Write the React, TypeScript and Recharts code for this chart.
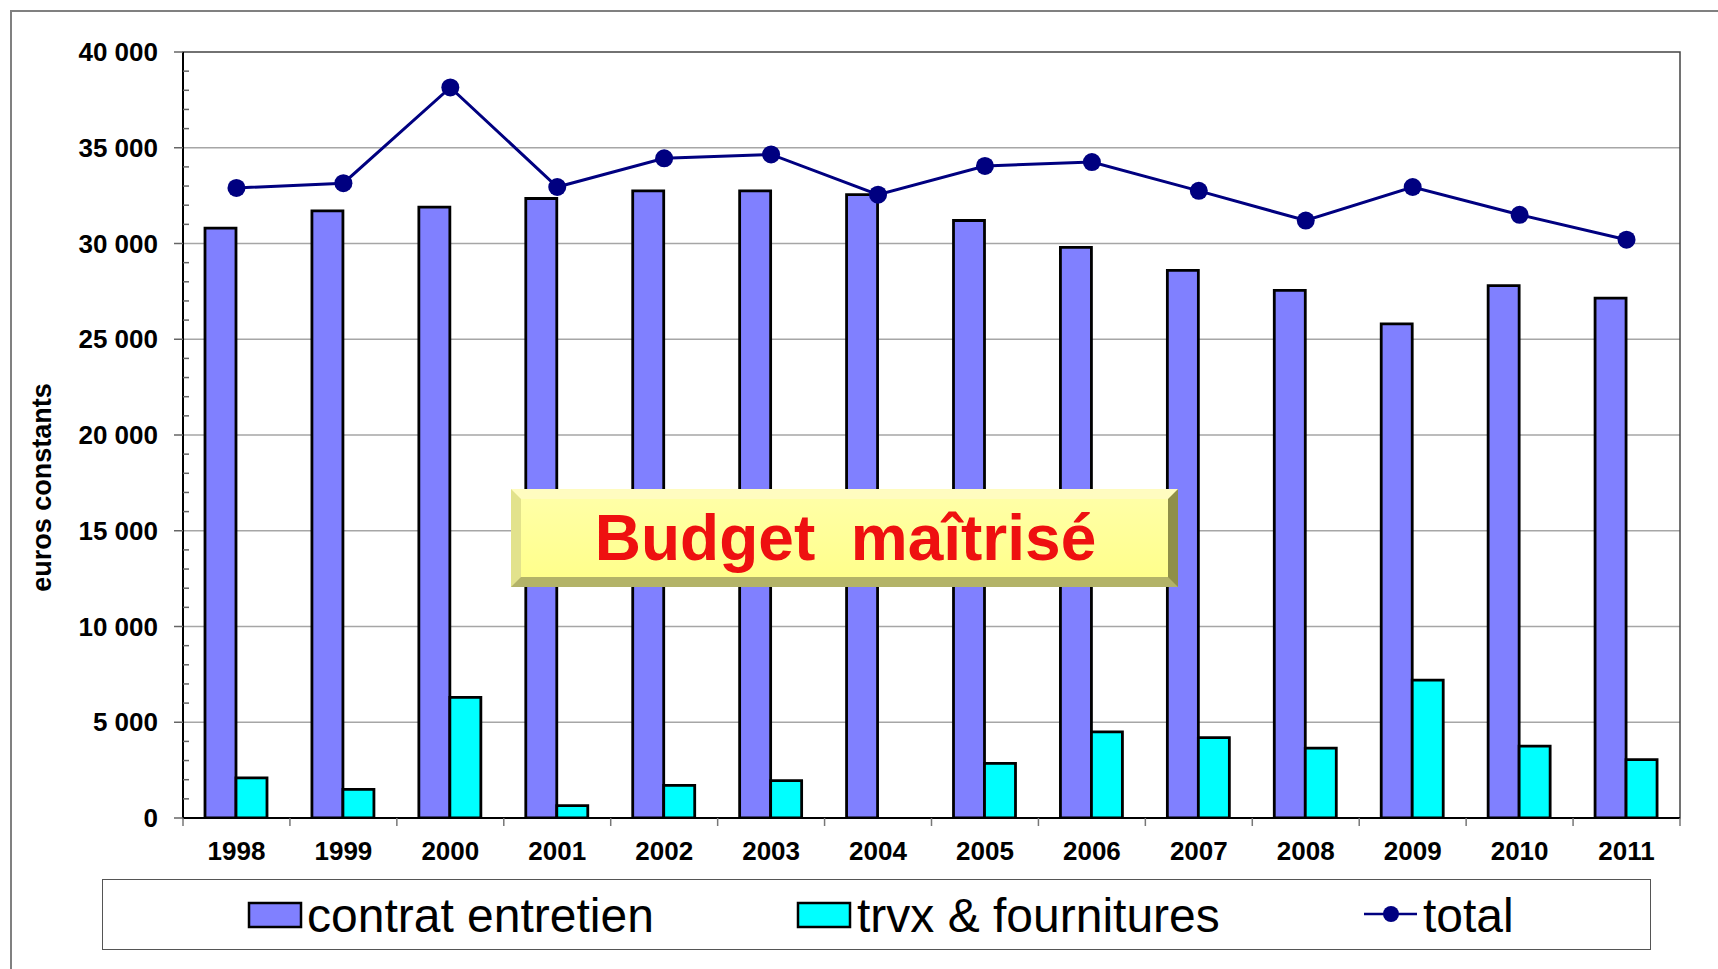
import React from "react";
import {
  ComposedChart,
  Bar,
  Line,
  XAxis,
  YAxis,
  CartesianGrid,
  ReferenceArea,
} from "recharts";

const years = ["1998", "1999", "2000", "2001", "2002", "2003", "2004", "2005", "2006", "2007", "2008", "2009", "2010", "2011"];
const contratEntretien = [30800, 31700, 31900, 32350, 32750, 32750, 32550, 31200, 29800, 28600, 27550, 25800, 27800, 27150];
const trvxFournitures = [2100, 1500, 6300, 650, 1700, 1950, 0, 2850, 4500, 4200, 3650, 7200, 3750, 3050];
const totals = [32900, 33150, 38150, 32950, 34450, 34650, 32550, 34050, 34250, 32750, 31200, 32950, 31500, 30200];
const majorTicks = [0, 5000, 10000, 15000, 20000, 25000, 30000, 35000, 40000];

const data = years.map((y, i) => ({
  year: y,
  contrat: contratEntretien[i],
  trvx: trvxFournitures[i],
  total: totals[i],
}));

// minor ticks every 1000 between the labelled ones
const allTicks: number[] = [];
majorTicks.forEach((t, i) => {
  allTicks.push(t);
  if (i < majorTicks.length - 1) for (let k = 1; k < 5; k++) allTicks.push(t + k * 1000);
});

const W = 1718;
const H = 969;
const LEFT = 183;
const RIGHT = 38;
const TOP = 52;
const BOTTOM = 151;
const BAND = (W - LEFT - RIGHT) / years.length;
const FONT = '"Liberation Sans", Arial, sans-serif';

const fmt = (v: number) => String(v).replace(/\B(?=(\d{3})+(?!\d))/g, " ");

function YTick(props: any) {
  const { x, y, payload } = props;
  const v = payload.value as number;
  const major = v % 5000 === 0;
  return (
    <g>
      {major ? (
        <>
          <line x1={x - 9} x2={x} y1={y} y2={y} stroke="#666" strokeWidth={1.5} />
          <text x={x - 25} y={y + 9} textAnchor="end" fontFamily={FONT} fontWeight="bold" fontSize={26} fill="#000">
            {fmt(v)}
          </text>
        </>
      ) : (
        <line x1={x} x2={x + 6} y1={y} y2={y} stroke="#666" strokeWidth={1.5} />
      )}
    </g>
  );
}

function XTick(props: any) {
  const { x, y, payload, index } = props;
  return (
    <g>
      <line x1={x - BAND / 2} x2={x - BAND / 2} y1={y} y2={y + 8} stroke="#777" strokeWidth={1.5} />
      {index === years.length - 1 && (
        <line x1={x + BAND / 2} x2={x + BAND / 2} y1={y} y2={y + 8} stroke="#777" strokeWidth={1.5} />
      )}
      <text x={x} y={y + 42} textAnchor="middle" fontFamily={FONT} fontWeight="bold" fontSize={26} fill="#000">
        {payload.value}
      </text>
    </g>
  );
}

function LegendBox() {
  return (
    <div
      style={{
        position: "absolute",
        left: 102,
        top: 879,
        width: 1549,
        height: 71,
        border: "1.5px solid #555",
        boxSizing: "border-box",
      }}
    >
      <svg width={1549} height={71} style={{ position: "absolute", left: -1.5, top: -1.5 }}>
        <rect x={147} y={24} width={52} height={24} fill="#8080ff" stroke="#000" strokeWidth={2.5} />
        <text x={205} y={53} fontFamily={FONT} fontSize={48} fill="#000">contrat entretien</text>
        <rect x={696} y={24} width={52} height={24} fill="#00ffff" stroke="#000" strokeWidth={2.5} />
        <text x={755} y={53} fontFamily={FONT} fontSize={48} fill="#000">trvx &amp; fournitures</text>
        <line x1={1262} x2={1315} y1={35} y2={35} stroke="#000080" strokeWidth={2.5} />
        <circle cx={1289} cy={35} r={8} fill="#000080" />
        <text x={1321} y={53} fontFamily={FONT} fontSize={48} fill="#000">total</text>
      </svg>
    </div>
  );
}

function BudgetBadge() {
  return (
    <div
      style={{
        position: "absolute",
        left: 511,
        top: 489,
        width: 667,
        height: 98,
        boxSizing: "border-box",
        background: "linear-gradient(#ffffa6, #ffff8c)",
        borderStyle: "solid",
        borderWidth: 10,
        borderTopColor: "#fffcc0",
        borderLeftColor: "#e2e28c",
        borderRightColor: "#8f8f48",
        borderBottomColor: "#b3b368",
        display: "flex",
        alignItems: "center",
        justifyContent: "center",
      }}
    >
      <span
        style={{
          fontFamily: FONT,
          fontWeight: "bold",
          fontSize: 64,
          color: "#ee1010",
          whiteSpace: "pre",
          lineHeight: 1,
          marginLeft: 2,
        }}
      >
        {"Budget  maîtrisé"}
      </span>
    </div>
  );
}

export default function App() {
  return (
    <div style={{ position: "relative", width: W, height: H, overflow: "hidden", background: "#fff" }}>
      <style>{"body{margin:0}"}</style>
      <div
        style={{
          position: "absolute",
          left: 10,
          top: 10,
          width: W,
          height: H,
          borderTop: "2px solid #808080",
          borderLeft: "2px solid #808080",
        }}
      />
      <div style={{ position: "absolute", left: 0, top: 0 }}>
        <ComposedChart
          width={W}
          height={H}
          data={data}
          margin={{ top: TOP, right: RIGHT, left: 0, bottom: 0 }}
          barGap={0}
        >
          <CartesianGrid vertical={false} horizontalValues={[5000, 10000, 15000, 20000, 25000, 30000, 35000]} stroke="#a6a6a6" strokeWidth={1.5} />
          <ReferenceArea y1={0} y2={40000} fill="none" stroke="#444" strokeWidth={1.5} ifOverflow="visible" />
          <XAxis
            dataKey="year"
            height={BOTTOM}
            axisLine={{ stroke: "#000", strokeWidth: 2 }}
            tickLine={false}
            tickSize={0}
            tickMargin={0}
            tick={<XTick />}
            interval={0}
          />
          <YAxis
            width={LEFT}
            domain={[0, 40000]}
            ticks={allTicks}
            interval={0}
            axisLine={{ stroke: "#000", strokeWidth: 2 }}
            tickLine={false}
            tickSize={0}
            tickMargin={0}
            tick={<YTick />}
            allowDataOverflow
          />
          <Bar dataKey="contrat" name="contrat entretien" fill="#8080ff" stroke="#000" strokeWidth={2.8} barSize={31} isAnimationActive={false} />
          <Bar dataKey="trvx" name="trvx & fournitures" fill="#00ffff" stroke="#000" strokeWidth={2.8} barSize={31} isAnimationActive={false} />
          <Line
            dataKey="total"
            name="total"
            stroke="#000080"
            strokeWidth={3}
            dot={{ r: 9, fill: "#000080", stroke: "#000080", strokeWidth: 0 }}
            isAnimationActive={false}
          />
        </ComposedChart>
      </div>
      <div
        style={{
          position: "absolute",
          left: 0,
          top: 487,
          width: 84,
          display: "flex",
          justifyContent: "center",
        }}
      >
        <div
          style={{
            transform: "rotate(-90deg)",
            whiteSpace: "nowrap",
            fontFamily: FONT,
            fontWeight: "bold",
            fontSize: 27,
            lineHeight: "27px",
            marginTop: -13,
          }}
        >
          euros constants
        </div>
      </div>
      <BudgetBadge />
      <LegendBox />
    </div>
  );
}
